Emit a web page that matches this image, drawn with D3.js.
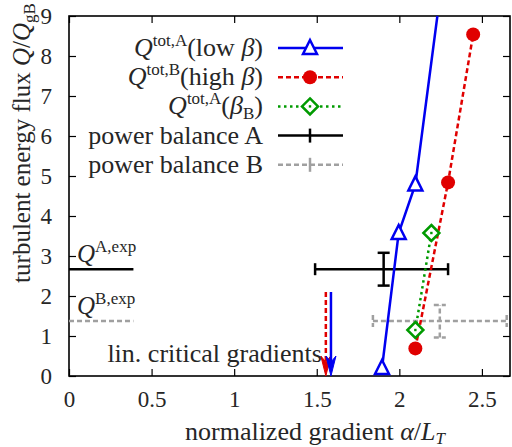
<!DOCTYPE html>
<html>
<head>
<meta charset="utf-8">
<script src="https://cdn.jsdelivr.net/npm/d3@7"></script>
</head>
<body style="margin:0; font-family:'Liberation Serif', serif">
<div id="chart"></div>
<script>
// Q_tot,A (low beta), Q_tot,B (high beta), Q_tot,A (beta_B) : [gradient, flux]
var lowBeta = [[1.895, 0.2], [1.996, 3.575], [2.097, 4.79], [2.30, 11.2]];
var highBeta = [[2.097, 0.69], [2.295, 4.84], [2.447, 8.54]];
var betaB = [[2.097, 1.15], [2.194, 3.575]];

// power balance points with error ranges
var powerA = { x: 1.905, xlo: 1.49, xhi: 2.295, y: 2.67, ylo: 2.26, yhi: 3.08 };
var powerB = { x: 2.245, xlo: 1.84, xhi: 2.65, y: 1.375, ylo: 0.96, yhi: 1.775 };

// experimental flux levels and linear critical gradients
var expLevels = [{ name: "A", q: 2.67, xEnd: 0.39 }, { name: "B", q: 1.375, xEnd: 0.39 }];
var critGrad = [{ x: 1.555, top: 2.1, series: "B" }, { x: 1.586, top: 2.1, series: "A" }];

var xTicks = [0, 0.5, 1, 1.5, 2, 2.5];
var yTicks = [0, 1, 2, 3, 4, 5, 6, 7, 8, 9];

var width = 512, height = 447;
var margin = { left: 69, right: 2, top: 16, bottom: 71 };
var fs = 25, tickFs = 23, supFs = 17;
var yMax = 9;

var svg = d3.select("#chart").append("svg")
    .attr("width", width)
    .attr("height", height);

var x = d3.scaleLinear().domain([0, 2.67]).range([margin.left, width - margin.right]);
var y = d3.scaleLinear().domain([0, yMax]).range([height - margin.bottom, margin.top]);

var blue = "#0000f0", red = "#e00000", green = "#009a00", grey = "#a0a0a0";

// cut a curve where it leaves the top of the frame
function cutTop(pts) {
    var out = [];
    for (var i = 0; i < pts.length; i++) {
        if (pts[i][1] <= yMax) { out.push(pts[i]); continue; }
        var a = pts[i - 1], b = pts[i];
        var t = (yMax - a[1]) / (b[1] - a[1]);
        out.push([a[0] + t * (b[0] - a[0]), yMax]);
        break;
    }
    return out;
}

// axes with inner ticks on all four sides
function clean(g) {
    g.select(".domain").remove();
    g.attr("font-family", null).attr("font-size", tickFs);
}
svg.append("g")
    .attr("transform", "translate(0," + y(0) + ")")
    .call(d3.axisBottom(x).tickValues(xTicks).tickSize(-7).tickPadding(15).tickFormat(d3.format("")))
    .call(clean);
svg.append("g")
    .attr("transform", "translate(0," + y(9) + ")")
    .call(d3.axisTop(x).tickValues(xTicks).tickSize(-7).tickFormat(""))
    .call(clean);
svg.append("g")
    .attr("transform", "translate(" + x(0) + ",0)")
    .call(d3.axisLeft(y).tickValues(yTicks).tickSize(-7).tickPadding(17))
    .call(clean);
svg.append("g")
    .attr("transform", "translate(" + x(2.67) + ",0)")
    .call(d3.axisRight(y).tickValues(yTicks).tickSize(-7).tickFormat(""))
    .call(clean);
svg.selectAll(".tick line").attr("stroke", "#000").attr("stroke-width", 1.2);
svg.selectAll(".tick text").attr("fill", "#262626");

svg.append("rect")
    .attr("x", x(0)).attr("y", y(9))
    .attr("width", x(2.67) - x(0)).attr("height", y(0) - y(9))
    .attr("fill", "none").attr("stroke", "#000").attr("stroke-width", 1.6);

function label(g) {
    return g.append("text")
        .attr("font-size", fs)
        .attr("fill", "#262626");
}

// axis titles
var xl = label(svg).attr("x", 185).attr("y", 440).attr("font-size", 26);
xl.append("tspan").text("normalized gradient ");
xl.append("tspan").attr("font-style", "italic").text("α");
xl.append("tspan").text("/");
xl.append("tspan").attr("font-style", "italic").text("L");
xl.append("tspan").attr("font-style", "italic").attr("font-size", supFs).attr("dy", 4).text("T");

var yl = label(svg)
    .attr("transform", "translate(30,143) rotate(-90)")
    .attr("text-anchor", "middle");
yl.append("tspan").text("turbulent energy flux ");
yl.append("tspan").attr("font-style", "italic").text("Q");
yl.append("tspan").text("/");
yl.append("tspan").attr("font-style", "italic").text("Q");
yl.append("tspan").attr("font-size", supFs).attr("dy", 5).text("gB");

var plot = svg.append("g");
var line = d3.line().x(function(d) { return x(d[0]); }).y(function(d) { return y(d[1]); });

// experimental levels
expLevels.forEach(function(e) {
    plot.append("line")
        .attr("x1", x(0)).attr("x2", x(e.xEnd))
        .attr("y1", y(e.q)).attr("y2", y(e.q))
        .attr("stroke", e.name == "A" ? "#000" : grey)
        .attr("stroke-width", 2.5)
        .attr("stroke-dasharray", e.name == "A" ? null : "5,3");
    var t = label(svg).attr("x", x(0) + 8).attr("y", y(e.q) - 7);
    t.append("tspan").attr("font-style", "italic").text("Q");
    t.append("tspan").attr("font-size", supFs).attr("dy", -10).text(e.name + ",exp");
});

// power balance error bars
function errorBar(p, color, dash) {
    var g = plot.append("g")
        .attr("stroke", color).attr("stroke-width", 2.5).attr("fill", "none")
        .attr("stroke-dasharray", dash);
    g.append("line").attr("x1", x(p.xlo)).attr("x2", x(p.xhi)).attr("y1", y(p.y)).attr("y2", y(p.y));
    g.append("line").attr("x1", x(p.x)).attr("x2", x(p.x)).attr("y1", y(p.ylo)).attr("y2", y(p.yhi));
    [p.xlo, p.xhi].forEach(function(v) {
        g.append("line").attr("x1", x(v)).attr("x2", x(v)).attr("y1", y(p.y) - 6).attr("y2", y(p.y) + 6);
    });
    [p.ylo, p.yhi].forEach(function(v) {
        g.append("line").attr("x1", x(p.x) - 6).attr("x2", x(p.x) + 6).attr("y1", y(v)).attr("y2", y(v));
    });
}
errorBar(powerB, grey, "5,3");
errorBar(powerA, "#000", null);

// linear critical gradient arrows
critGrad.forEach(function(c) {
    var col = c.series == "A" ? blue : red;
    var x0 = x(c.x), y0 = y(c.top), y1 = y(0);
    plot.append("line")
        .attr("x1", x0).attr("x2", x0).attr("y1", y0).attr("y2", y1 - 10)
        .attr("stroke", col).attr("stroke-width", 2.5)
        .attr("stroke-dasharray", c.series == "A" ? null : "5,3");
    plot.append("path")
        .attr("d", "M" + (x0 - 5) + "," + (y1 - 20) + "L" + x0 + "," + y1 + "L" + (x0 + 5) + "," + (y1 - 20) + "L" + x0 + "," + (y1 - 14) + "Z")
        .attr("fill", col).attr("stroke", col).attr("stroke-width", 1);
});
label(svg)
    .attr("x", x(critGrad[0].x) - 4).attr("y", y(0) - 14)
    .attr("text-anchor", "end")
    .attr("font-size", 26)
    .text("lin. critical gradients");

// model curves
plot.append("path").datum(cutTop(lowBeta)).attr("d", line)
    .attr("fill", "none").attr("stroke", blue).attr("stroke-width", 2.5);
plot.append("path").datum(highBeta).attr("d", line)
    .attr("fill", "none").attr("stroke", red).attr("stroke-width", 2.5).attr("stroke-dasharray", "5,3");
plot.append("path").datum(betaB).attr("d", line)
    .attr("fill", "none").attr("stroke", green).attr("stroke-width", 2.5).attr("stroke-dasharray", "2.5,3.5");

function triangle(g, px, py) {
    g.append("path")
        .attr("d", "M" + px + "," + (py - 8) + "L" + (px + 7) + "," + (py + 6) + "L" + (px - 7) + "," + (py + 6) + "Z")
        .attr("fill", "#fff").attr("stroke", blue).attr("stroke-width", 2.5);
}
function diamond(g, px, py) {
    g.append("path")
        .attr("d", "M" + px + "," + (py - 8) + "L" + (px + 8) + "," + py + "L" + px + "," + (py + 8) + "L" + (px - 8) + "," + py + "Z")
        .attr("fill", "#fff").attr("stroke", green).attr("stroke-width", 2.5);
    g.append("rect").attr("x", px - 1.2).attr("y", py - 1.2).attr("width", 2.4).attr("height", 2.4).attr("fill", green);
}
function dot(g, px, py) {
    g.append("circle").attr("cx", px).attr("cy", py).attr("r", 7).attr("fill", red);
}

lowBeta.filter(function(d) { return d[1] <= yMax; }).forEach(function(d) { triangle(plot, x(d[0]), y(d[1])); });
highBeta.forEach(function(d) { dot(plot, x(d[0]), y(d[1])); });
betaB.forEach(function(d) { diamond(plot, x(d[0]), y(d[1])); });

// legend
var legend = [
    { sup: "tot,A", rest: "(low ", greek: "β", tail: ")", color: blue, dash: null, mark: triangle },
    { sup: "tot,B", rest: "(high ", greek: "β", tail: ")", color: red, dash: "5,3", mark: dot },
    { sup: "tot,A", rest: "(", greek: "β", sub: "B", tail: ")", color: green, dash: "2.5,3.5", mark: diamond },
    { label: "power balance A", color: "#000", dash: null },
    { label: "power balance B", color: grey, dash: "5,3" }
];
var lg = svg.append("g");
legend.forEach(function(d, i) {
    var cy = 48 + i * 29.2;
    var t = label(lg)
        .attr("x", 263).attr("y", cy + 8)
        .attr("text-anchor", "end")
        .attr("font-size", 26);
    if (d.label) {
        t.text(d.label);
    } else {
        t.append("tspan").attr("font-style", "italic").text("Q");
        t.append("tspan").attr("font-size", supFs).attr("dy", -10).text(d.sup);
        t.append("tspan").attr("dy", 10).text(d.rest);
        t.append("tspan").attr("font-style", "italic").text(d.greek);
        if (d.sub) {
            t.append("tspan").attr("font-size", supFs).attr("dy", 5).text(d.sub);
            t.append("tspan").attr("dy", -5).text(d.tail);
        } else {
            t.append("tspan").text(d.tail);
        }
    }
    lg.append("line")
        .attr("x1", 278).attr("x2", 343).attr("y1", cy).attr("y2", cy)
        .attr("stroke", d.color).attr("stroke-width", 2.5)
        .attr("stroke-dasharray", d.dash);
    if (d.mark) {
        d.mark(lg, 310, cy);
    } else {
        lg.append("line")
            .attr("x1", 310).attr("x2", 310).attr("y1", cy - 7).attr("y2", cy + 7)
            .attr("stroke", d.color).attr("stroke-width", 2.5);
    }
});
</script>
</body>
</html>
